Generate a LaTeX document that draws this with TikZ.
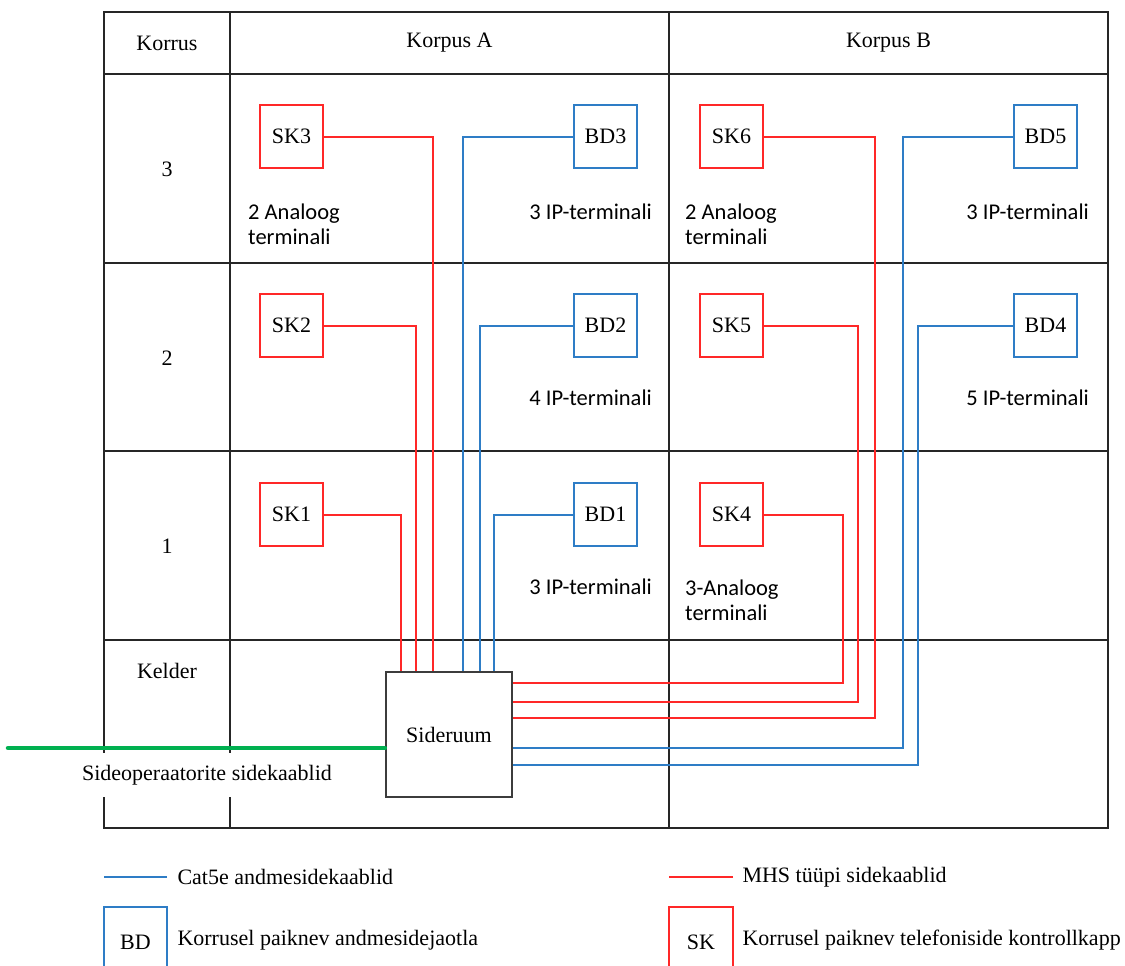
\documentclass[tikz,border=0pt]{standalone}
\usepackage{fontspec}
\setmainfont{Liberation Serif}
\newfontfamily\calfont{Carlito}
\definecolor{gridc}{RGB}{38,38,38}
\definecolor{boxc}{RGB}{60,60,60}
\definecolor{wred}{RGB}{255,40,40}
\definecolor{wblue}{RGB}{46,125,198}
\definecolor{wgreen}{RGB}{0,176,80}
\begin{document}
\begin{tikzpicture}[x=1pt,y=-1pt,
  grid/.style={draw=gridc,line width=2.3pt},
  serif/.style={font=\fontsize{22}{26}\selectfont},
  note/.style={font=\calfont\fontsize{22.5}{25.5}\selectfont,inner sep=0pt},
  skbox/.style={draw=wred,line width=1.9pt,minimum size=63pt,inner sep=0pt,serif},
  bdbox/.style={draw=wblue,line width=1.9pt,minimum size=63pt,inner sep=0pt,serif},
  redw/.style={draw=wred,line width=2pt},
  bluew/.style={draw=wblue,line width=2pt},
  greenw/.style={draw=wgreen,line width=4.5pt,line cap=round},
]
\useasboundingbox (0,0) rectangle (1125,966);
\clip (0,0) rectangle (1125,966);
\fill[white] (0,0) rectangle (1125,966);

% table frame
\draw[grid] (104,12) rectangle (1108,828);
\draw[grid] (230,12) -- (230,828);
\draw[grid] (669,12) -- (669,828);
\foreach \yy in {74,263,451,640} \draw[grid] (104,\yy) -- (1108,\yy);

% headers and floor labels
\node[serif] (hfloor) at (167,43) {Korrus};
\node[serif] (hA) at (449.5,43) {Korpus A};
\node[serif] (hB) at (888.5,43) {Korpus B};
\node[serif] (f3) at (167,169) {3};
\node[serif] (f2) at (167,358) {2};
\node[serif] (f1) at (167,546) {1};
\node[serif] (f0) at (167,671) {Kelder};

% operator cable label (white patch over the frame)
\node[serif,fill=white,minimum width=332pt,minimum height=44pt,inner sep=0pt] (oplabel) at (207,775) {Sideoperaatorite sidekaablid};

% communication room
\node[draw=boxc,line width=2.3pt,fill=white,minimum width=126pt,minimum height=125pt,inner sep=0pt,serif] (sider) at (449,734.5) {Sideruum};

% floor cabinets
\node[skbox] (sk3) at (291.5,136.5) {SK3};
\node[bdbox] (bd3) at (605.5,136.5) {BD3};
\node[skbox] (sk6) at (731.5,136.5) {SK6};
\node[bdbox] (bd5) at (1045.5,136.5) {BD5};
\node[skbox] (sk2) at (291.5,325.5) {SK2};
\node[bdbox] (bd2) at (605.5,325.5) {BD2};
\node[skbox] (sk5) at (731.5,325.5) {SK5};
\node[bdbox] (bd4) at (1045.5,325.5) {BD4};
\node[skbox] (sk1) at (291.5,514.5) {SK1};
\node[bdbox] (bd1) at (605.5,514.5) {BD1};
\node[skbox] (sk4) at (731.5,514.5) {SK4};

% terminal counts
\node[note,anchor=west,align=left] (t3a) at (248,224.5) {2 Analoog\\terminali};
\node[note,anchor=base east] (t3b) at (652,219) {3 IP-terminali};
\node[note,anchor=west,align=left] (t3c) at (685,224.5) {2 Analoog\\terminali};
\node[note,anchor=base east] (t3d) at (1089,219) {3 IP-terminali};
\node[note,anchor=base east] (t2b) at (652,405) {4 IP-terminali};
\node[note,anchor=base east] (t2d) at (1089,405) {5 IP-terminali};
\node[note,anchor=base east] (t1b) at (652,594) {3 IP-terminali};
\node[note,anchor=west,align=left] (t1c) at (685,600.5) {3-Analoog\\terminali};

% cables of building A
\draw[redw] (sk3.east) -| ([xshift=48pt]sider.north west);
\draw[redw] (sk2.east) -| ([xshift=31pt]sider.north west);
\draw[redw] (sk1.east) -| ([xshift=16pt]sider.north west);
\draw[bluew] (bd3.west) -| ([xshift=78pt]sider.north west);
\draw[bluew] (bd2.west) -| ([xshift=95pt]sider.north west);
\draw[bluew] (bd1.west) -| ([xshift=109pt]sider.north west);

% cables of building B
\draw[redw] (sk4.east) -- ++(79,0) |- ([yshift=-12pt]sider.north east);
\draw[redw] (sk5.east) -- ++(94,0) |- ([yshift=-31pt]sider.north east);
\draw[redw] (sk6.east) -- ++(111,0) |- ([yshift=-47pt]sider.north east);
\draw[bluew] (bd5.west) -- ++(-110,0) |- ([yshift=-77pt]sider.north east);
\draw[bluew] (bd4.west) -- ++(-95,0) |- ([yshift=-94pt]sider.north east);

% operator cables
\coordinate (feed) at (8,748);
\draw[greenw] (feed) -- (feed -| sider.west);

% legend
\node[serif,anchor=west] (lg1) at (174,877) {Cat5e andmesidekaablid};
\draw[bluew] ([xshift=-7pt]lg1.west) -- ++(-63,0);
\node[serif,anchor=west] (lg2) at (739,877) {MHS tüüpi sidekaablid};
\draw[redw] ([xshift=-6pt]lg2.west) -- ++(-64,0);
\node[bdbox,minimum width=63pt,minimum height=70pt] (lgbd) at (135.5,942) {BD};
\node[serif,anchor=west] (lg3) at (174,940) {Korrusel paiknev andmesidejaotla};
\node[skbox,minimum width=64pt,minimum height=70pt] (lgsk) at (701,942) {SK};
\node[serif,anchor=west] (lg4) at (739,940) {Korrusel paiknev telefoniside kontrollkapp};
\end{tikzpicture}
\end{document}
